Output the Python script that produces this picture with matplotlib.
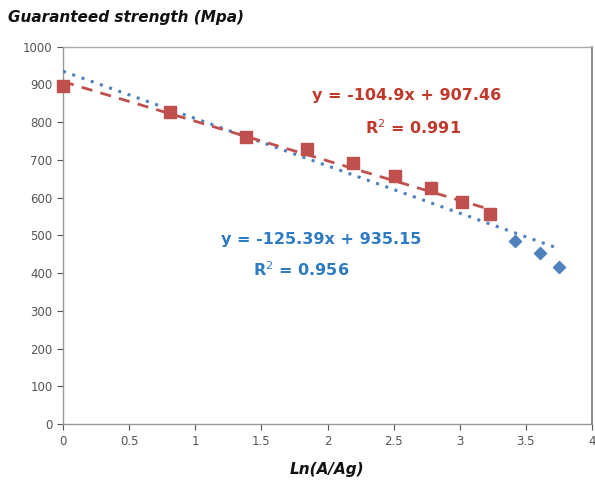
import numpy as np
import matplotlib.pyplot as plt

# data
x_all = [0, 0.81, 1.38, 1.845, 2.19, 2.51, 2.78, 3.02, 3.23, 3.42, 3.61, 3.75]
y_all = [896, 828, 761, 729, 692, 658, 626, 589, 557, 485, 453, 416]
n_red = 9
x_red = x_all[:n_red]
y_red = y_all[:n_red]

red_fit = (-104.9, 907.46)
blue_fit = (-125.39, 935.15)

red = '#C0504D'
blue = '#4F81BD'
red_txt = '#C0392B'
blue_txt = '#2E7BC4'

fig = plt.figure(figsize=(5.95, 4.92), dpi=100)
ax = fig.add_axes([0.106, 0.138, 0.889, 0.767])

# blue series (all points) with dotted linear trend
ax.scatter(x_all, y_all, marker='D', s=38, color=blue, zorder=3, clip_on=False)
xb = np.array([0, x_all[-1]])
ax.plot(xb, blue_fit[0] * xb + blue_fit[1], color=blue, ls=(0, (1, 2.2)), lw=2.2, zorder=4)

# red series with dashed trend
ax.scatter(x_red, y_red, marker='s', s=75, color=red, zorder=5, clip_on=False)
xr = np.array([0, x_red[-1]])
ax.plot(xr, red_fit[0] * xr + red_fit[1], color=red, ls=(0, (4, 3)), lw=2.0, zorder=6)

ax.set_xlim(0, 4)
ax.set_ylim(0, 1000)
ax.set_xticks(np.arange(0, 4.01, 0.5))
ax.set_xticklabels(['0', '0.5', '1', '1.5', '2', '2.5', '3', '3.5', '4'])
ax.set_yticks(np.arange(0, 1001, 100))
ax.tick_params(labelsize=8.5, colors='#555555', length=4, width=0.8)
for s in ax.spines.values():
    s.set_color('#999999')
    s.set_linewidth(1.0)
ax.spines['top'].set_color('#aaaaaa')
ax.spines['right'].set_color('#808080')
ax.spines['right'].set_linewidth(1.3)

ax.text(2.6, 870, 'y = -104.9x + 907.46', color=red_txt, fontsize=11.5,
        fontweight='bold', ha='center', va='center')
ax.text(2.65, 785, 'R$^2$ = 0.991', color=red_txt, fontsize=11.5,
        fontweight='bold', ha='center', va='center')
ax.text(1.95, 488, 'y = -125.39x + 935.15', color=blue_txt, fontsize=11.5,
        fontweight='bold', ha='center', va='center')
ax.text(1.8, 408, 'R$^2$ = 0.956', color=blue_txt, fontsize=11.5,
        fontweight='bold', ha='center', va='center')

fig.text(0.013, 0.965, 'Guaranteed strength (Mpa)', fontsize=11, fontweight='bold',
         fontstyle='italic', ha='left', va='center', color='#111111')
fig.text(0.55, 0.045, 'Ln(A/Ag)', fontsize=11, fontweight='bold',
         fontstyle='italic', ha='center', va='center', color='#111111')

fig.savefig('out.png', dpi=100)
